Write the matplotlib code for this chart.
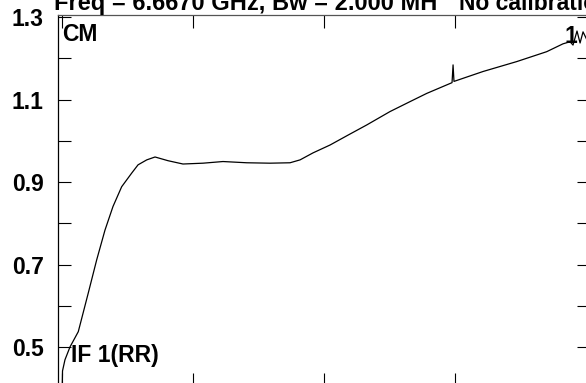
import matplotlib
matplotlib.use("Agg")
import matplotlib.pyplot as plt
from matplotlib.ticker import FixedLocator, NullFormatter

# ---- data (channel vs amplitude) ----
channel = [0, 0.5, 2.9, 7.8, 15.9, 25.7, 33.9, 42.0, 49.8, 58.3, 68.1, 74.3, 82.8,
           90.9, 103.6, 118.2, 137.8, 157.3, 180.5, 203.2, 222.8, 232.6, 245.3,
           261.9, 279.5, 297.7, 320.5, 340.0, 356.4, 381.1, 382.1, 383.0, 411.4,
           444.3, 473.6, 489.5, 496.4, 499.3, 503.2, 506.2, 509.1, 513.0]
amplitude = [0.373, 0.443, 0.470, 0.501, 0.538, 0.632, 0.712, 0.784, 0.841, 0.889,
             0.922, 0.942, 0.954, 0.961, 0.952, 0.944, 0.946, 0.950, 0.947, 0.946,
             0.947, 0.954, 0.971, 0.990, 1.014, 1.0385, 1.071, 1.095, 1.115, 1.141,
             1.184, 1.144, 1.168, 1.192, 1.216, 1.235, 1.240, 1.232, 1.266, 1.237,
             1.264, 1.244]

y_major = [0.5, 0.7, 0.9, 1.1, 1.3]
y_major_labels = ["0.5", "0.7", "0.9", "1.1", "1.3"]
y_minor = [0.6, 0.8, 1.0, 1.2]
x_ticks = [0, 128, 256, 384]

title_part1 = "Freq = 6.6670 GHz, Bw = 2.000 MH"
title_part2 = "No calibration"

W, H = 586, 383
dpi = 100
plt.rcParams['font.family'] = ['Liberation Sans', 'DejaVu Sans']
fig = plt.figure(figsize=(W / dpi, H / dpi), dpi=dpi)

left_px, right_px, top_px, bot_px = 57.5, 590.0, 15.0, 385.5
ax = fig.add_axes([left_px / W, (H - bot_px) / H, (right_px - left_px) / W, (bot_px - top_px) / H])

ax.plot(channel, amplitude, color="black", lw=0.9)

ax.set_xlim(-4.4, 515.9)
ax.set_ylim(0.4077, 1.3048)

ax.yaxis.set_major_locator(FixedLocator(y_major))
ax.set_yticklabels(y_major_labels)
ax.yaxis.set_minor_locator(FixedLocator(y_minor))
ax.xaxis.set_major_locator(FixedLocator(x_ticks))
ax.xaxis.set_major_formatter(NullFormatter())

ax.tick_params(axis="both", which="both", direction="in", length=9.5, width=0.8,
               top=True, right=True, bottom=True, left=True, color="black")
ax.tick_params(axis="y", which="major", labelsize=16.5, pad=10)
for lab in ax.get_yticklabels():
    lab.set_fontweight("bold")

for s in ax.spines.values():
    s.set_linewidth(0.9)
ax.spines["top"].set_color("#555555")

def px(x, y):
    return x / W, 1 - y / H

fs = 16.5
fig.text(*px(54, 10), title_part1, fontsize=17, fontweight="bold", ha="left", va="baseline")
fig.text(*px(459, 10), title_part2, fontsize=fs, fontweight="bold", ha="left", va="baseline")
fig.text(*px(62, 41), "CM", fontsize=fs, fontweight="bold", ha="left", va="baseline")
fig.text(*px(71, 362), "IF 1(RR)", fontsize=fs, fontweight="bold", ha="left", va="baseline")
fig.text(*px(564, 43), "1", fontsize=fs, fontweight="bold", ha="left", va="baseline")

fig.savefig("out.png", dpi=dpi)
